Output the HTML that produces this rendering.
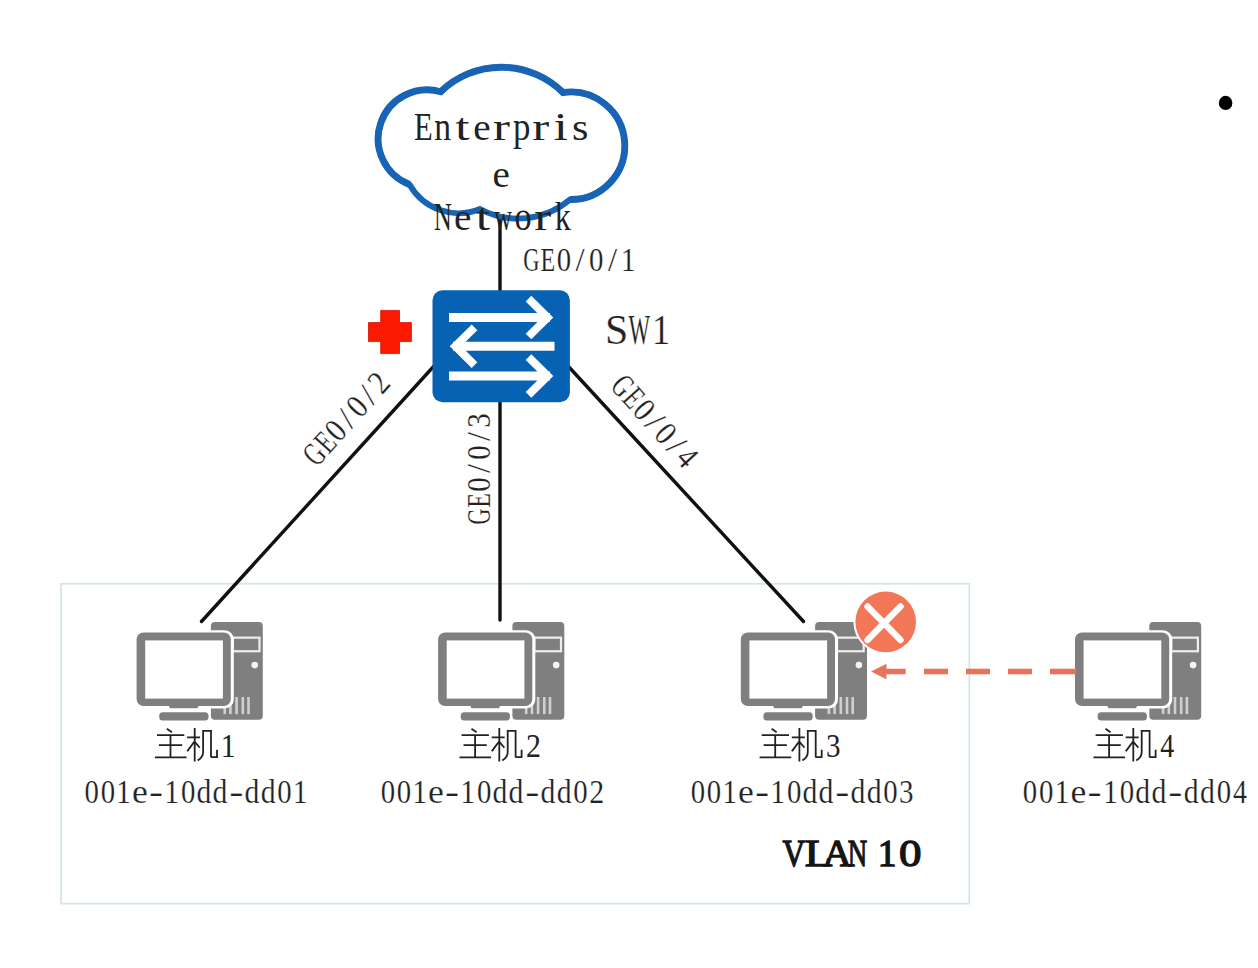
<!DOCTYPE html>
<html><head><meta charset="utf-8">
<style>
html,body{margin:0;padding:0;background:#fff;width:1258px;height:968px;overflow:hidden}
svg{position:absolute;left:0;top:0}
</style></head><body>
<svg width="1258" height="968" viewBox="0 0 1258 968">
<defs>
<g id="pc">
  <rect x="74.3" y="-0.5" width="51.9" height="97.8" rx="4" fill="#7f7f7f"/>
  <rect x="96.2" y="15.15" width="26.7" height="13.6" fill="none" stroke="#eeeeee" stroke-width="2.2"/>
  <circle cx="118.1" cy="42.6" r="3.3" fill="#f4f4f4"/>
  <g fill="#d0d0d0">
    <rect x="86.8" y="74.5" width="2.6" height="17.1"/>
    <rect x="92.5" y="74.5" width="2.6" height="17.1"/>
    <rect x="98.7" y="74.5" width="2.6" height="17.1"/>
    <rect x="104.9" y="74.5" width="2.6" height="17.1"/>
    <rect x="110.6" y="74.5" width="2.6" height="17.1"/>
  </g>
  <rect x="-2.4" y="7.8" width="99.6" height="78.1" rx="9" fill="#fff"/>
  <rect x="0" y="10" width="94.2" height="73.5" rx="7" fill="#7f7f7f"/>
  <rect x="8.6" y="17.9" width="77.7" height="58.2" fill="#fff"/>
  <path d="M32 83 L62.2 83 L61 85.8 L33.4 85.8 Z" fill="#7f7f7f"/>
  <rect x="22.6" y="89.7" width="49.3" height="8.3" rx="3.5" fill="#7f7f7f"/>
</g>
</defs>

<rect x="61" y="583.8" width="908.3" height="319.8" fill="none" stroke="#d6e6e8" stroke-width="1.8"/>
<g stroke="#111" stroke-width="3.4" stroke-linecap="round" fill="none">
  <line x1="500" y1="220" x2="500" y2="292"/>
  <line x1="434" y1="366" x2="201.5" y2="621.5"/>
  <line x1="500" y1="400" x2="500" y2="620"/>
  <line x1="568" y1="366" x2="803.5" y2="621.5"/>
</g>
<path d="M440.7 91.7 A87.5 87.5 0 0 1 563 92.5 A53.8 53.8 0 1 1 570 199.5 A80.2 80.2 0 0 1 480 209 A56.5 56.5 0 0 1 409.5 184.5 A49 49 0 0 1 440.7 91.7 Z" fill="none" stroke="#1764b6" stroke-width="5.8" stroke-linejoin="miter"/>
<path d="M409.5 184.5 A49 49 0 0 1 440.7 91.7 A87.5 87.5 0 0 1 563 92.5 A53.8 53.8 0 1 1 570 199.5" fill="none" stroke="#1764b6" stroke-width="6.9" stroke-linejoin="miter"/>

<g font-family="Liberation Serif" font-size="39" fill="#222"><text transform="translate(414.12 140) scale(0.785 1)">E</text><text transform="translate(434.29 140) scale(0.860 1)">n</text><text transform="translate(455.21 140) scale(1.320 1)">t</text><text transform="translate(473.34 140) scale(1.005 1)">e</text><text transform="translate(493.00 140) scale(1.306 1)">r</text><text transform="translate(513.12 140) scale(0.893 1)">p</text><text transform="translate(532.32 140) scale(1.306 1)">r</text><text transform="translate(553.68 140) scale(1.294 1)">i</text><text transform="translate(572.06 140) scale(1.085 1)">s</text></g>
<g font-family="Liberation Serif" font-size="39" fill="#222"><text transform="translate(492.47 186.5) scale(1.005 1)">e</text></g>
<g font-family="Liberation Serif" font-size="39" fill="#222"><text transform="translate(433.89 230.3) scale(0.631 1)">N</text><text transform="translate(454.10 230.3) scale(1.005 1)">e</text><text transform="translate(475.66 230.3) scale(1.320 1)">t</text><text transform="translate(494.18 230.3) scale(0.626 1)">w</text><text transform="translate(514.43 230.3) scale(0.877 1)">o</text><text transform="translate(534.25 230.3) scale(1.306 1)">r</text><text transform="translate(554.69 230.3) scale(0.826 1)">k</text></g>

<rect x="432.5" y="290.3" width="137.4" height="111.9" rx="10" fill="#0862b4"/>
<g stroke="#fff" fill="none">
  <path d="M449 317.4 H550 M554.5 346.2 H453 M449 376 H550" stroke-width="9"/>
  <path d="M528.5 298.7 L547.6 317.6 L528.5 336.5 M474.5 327.3 L455.4 346.2 L474.5 365.1 M528.5 357.1 L547.6 376 L528.5 394.9" stroke-width="8"/>
</g>
<path d="M380.7 310.4 H399.5 V322.6 H411.4 V341.6 H399.5 V353.6 H380.7 V341.6 H368.5 V322.6 H380.7 Z" fill="#fb1900" stroke="#d01000" stroke-width="0.8"/>

<g font-family="Liberation Serif" font-size="42.4" fill="#222" stroke="#fff" stroke-width="0.2"><text transform="translate(605.10 344.2) scale(0.988 1)">S</text><text transform="translate(628.43 344.2) scale(0.539 1)">W</text><text transform="translate(652.03 344.2) scale(0.851 1)">1</text></g>
<g font-family="Liberation Serif" font-size="33.6" fill="#222" stroke="#fff" stroke-width="0.2"><text transform="translate(523.28 270.5) scale(0.669 1)">G</text><text transform="translate(540.60 270.5) scale(0.716 1)">E</text><text transform="translate(556.69 270.5) scale(0.857 1)">0</text><text transform="translate(575.53 270.5) scale(0.975 1)">/</text><text transform="translate(589.07 270.5) scale(0.857 1)">0</text><text transform="translate(607.91 270.5) scale(0.975 1)">/</text><text transform="translate(620.78 270.5) scale(0.888 1)">1</text></g>
<g transform="translate(346 419) rotate(-48)"><g font-family="Liberation Serif" font-size="33.6" fill="#222" stroke="#fff" stroke-width="0.2"><text transform="translate(-55.72 11.0) scale(0.669 1)">G</text><text transform="translate(-38.54 11.0) scale(0.716 1)">E</text><text transform="translate(-22.60 11.0) scale(0.857 1)">0</text><text transform="translate(-3.90 11.0) scale(0.975 1)">/</text><text transform="translate(9.50 11.0) scale(0.857 1)">0</text><text transform="translate(28.20 11.0) scale(0.975 1)">/</text><text transform="translate(41.48 11.0) scale(0.891 1)">2</text></g></g>
<g transform="translate(478.9 469.15) rotate(-90)"><g font-family="Liberation Serif" font-size="33.6" fill="#222" stroke="#fff" stroke-width="0.2"><text transform="translate(-55.72 11.0) scale(0.669 1)">G</text><text transform="translate(-38.54 11.0) scale(0.716 1)">E</text><text transform="translate(-22.60 11.0) scale(0.857 1)">0</text><text transform="translate(-3.90 11.0) scale(0.975 1)">/</text><text transform="translate(9.50 11.0) scale(0.857 1)">0</text><text transform="translate(28.20 11.0) scale(0.975 1)">/</text><text transform="translate(41.41 11.0) scale(0.865 1)">3</text></g></g>
<g transform="translate(654.8 421.3) rotate(48)"><g font-family="Liberation Serif" font-size="33.6" fill="#222" stroke="#fff" stroke-width="0.2"><text transform="translate(-55.97 11.0) scale(0.669 1)">G</text><text transform="translate(-38.79 11.0) scale(0.716 1)">E</text><text transform="translate(-22.85 11.0) scale(0.857 1)">0</text><text transform="translate(-4.15 11.0) scale(0.975 1)">/</text><text transform="translate(9.25 11.0) scale(0.857 1)">0</text><text transform="translate(27.95 11.0) scale(0.975 1)">/</text><text transform="translate(41.50 11.0) scale(0.832 1)">4</text></g></g>

<use href="#pc" x="136.6" y="622.5"/>
<use href="#pc" x="438.1" y="622.5"/>
<use href="#pc" x="740.8" y="622.5"/>
<use href="#pc" x="1075" y="622.5"/>
<g fill="#e8735a">
  <path d="M871 671.5 L886.5 663.8 L886.5 668.7 L905.7 668.7 L905.7 674.3 L886.5 674.3 L886.5 679.3 Z"/>
  <rect x="924" y="668.7" width="24" height="5.6"/>
  <rect x="966" y="668.7" width="24" height="5.6"/>
  <rect x="1008" y="668.7" width="24" height="5.6"/>
  <rect x="1050" y="668.7" width="26" height="5.6"/>
</g>
<circle cx="885.7" cy="621.9" r="32.3" fill="#fff"/>
<circle cx="885.7" cy="621.9" r="30.3" fill="#f27658"/>
<g stroke="#fff" stroke-width="6.4" stroke-linecap="round">
  <line x1="867.5" y1="606.5" x2="900.5" y2="640"/>
  <line x1="900.5" y1="606.5" x2="867.5" y2="640"/>
</g>

<path transform="translate(155.8 722)" d="M11.8 7.2 L15.4 9.7 M2.1 13.2 H27.6 M4 23.2 H25.5 M0 35.4 H29.8 M14.7 13.2 V35.4 M32.2 15.4 H43.4 M38.9 6.8 V38.6 M38.3 20 L31.9 28.6 M39.8 20.8 L43.4 25 M47.3 8.9 V30 Q47.3 35 42.6 37.9 M47.3 8.9 H55.2 V34.5 Q55.2 35.2 56.2 35.2 H61.2 V28.6" fill="none" stroke="#222" stroke-width="1.8" stroke-linecap="square"/>
<g font-family="Liberation Serif" font-size="33.6" fill="#222"><text transform="translate(220.73 756.5) scale(0.888 1)">1</text></g>
<g font-family="Liberation Serif" font-size="33.6" fill="#222" stroke="#fff" stroke-width="0.2"><text transform="translate(84.60 802.7) scale(0.857 1)">0</text><text transform="translate(100.66 802.7) scale(0.857 1)">0</text><text transform="translate(116.04 802.7) scale(0.888 1)">1</text><text transform="translate(131.98 802.7) scale(1.061 1)">e</text><text transform="translate(148.96 802.7) scale(1.260 1)">-</text><text transform="translate(164.22 802.7) scale(0.888 1)">1</text><text transform="translate(180.95 802.7) scale(0.857 1)">0</text><text transform="translate(196.43 802.7) scale(0.883 1)">d</text><text transform="translate(212.49 802.7) scale(0.883 1)">d</text><text transform="translate(229.25 802.7) scale(1.260 1)">-</text><text transform="translate(244.60 802.7) scale(0.883 1)">d</text><text transform="translate(260.66 802.7) scale(0.883 1)">d</text><text transform="translate(277.30 802.7) scale(0.857 1)">0</text><text transform="translate(292.68 802.7) scale(0.888 1)">1</text></g>
<path transform="translate(460.4 722)" d="M11.8 7.2 L15.4 9.7 M2.1 13.2 H27.6 M4 23.2 H25.5 M0 35.4 H29.8 M14.7 13.2 V35.4 M32.2 15.4 H43.4 M38.9 6.8 V38.6 M38.3 20 L31.9 28.6 M39.8 20.8 L43.4 25 M47.3 8.9 V30 Q47.3 35 42.6 37.9 M47.3 8.9 H55.2 V34.5 Q55.2 35.2 56.2 35.2 H61.2 V28.6" fill="none" stroke="#222" stroke-width="1.8" stroke-linecap="square"/>
<g font-family="Liberation Serif" font-size="33.6" fill="#222"><text transform="translate(525.88 756.5) scale(0.891 1)">2</text></g>
<g font-family="Liberation Serif" font-size="33.6" fill="#222" stroke="#fff" stroke-width="0.2"><text transform="translate(380.80 802.7) scale(0.857 1)">0</text><text transform="translate(396.84 802.7) scale(0.857 1)">0</text><text transform="translate(412.21 802.7) scale(0.888 1)">1</text><text transform="translate(428.12 802.7) scale(1.061 1)">e</text><text transform="translate(445.08 802.7) scale(1.260 1)">-</text><text transform="translate(460.32 802.7) scale(0.888 1)">1</text><text transform="translate(477.03 802.7) scale(0.857 1)">0</text><text transform="translate(492.50 802.7) scale(0.883 1)">d</text><text transform="translate(508.54 802.7) scale(0.883 1)">d</text><text transform="translate(525.27 802.7) scale(1.260 1)">-</text><text transform="translate(540.61 802.7) scale(0.883 1)">d</text><text transform="translate(556.65 802.7) scale(0.883 1)">d</text><text transform="translate(573.27 802.7) scale(0.857 1)">0</text><text transform="translate(589.18 802.7) scale(0.891 1)">2</text></g>
<path transform="translate(760.5 722)" d="M11.8 7.2 L15.4 9.7 M2.1 13.2 H27.6 M4 23.2 H25.5 M0 35.4 H29.8 M14.7 13.2 V35.4 M32.2 15.4 H43.4 M38.9 6.8 V38.6 M38.3 20 L31.9 28.6 M39.8 20.8 L43.4 25 M47.3 8.9 V30 Q47.3 35 42.6 37.9 M47.3 8.9 H55.2 V34.5 Q55.2 35.2 56.2 35.2 H61.2 V28.6" fill="none" stroke="#222" stroke-width="1.8" stroke-linecap="square"/>
<g font-family="Liberation Serif" font-size="33.6" fill="#222"><text transform="translate(825.91 756.5) scale(0.865 1)">3</text></g>
<g font-family="Liberation Serif" font-size="33.6" fill="#222" stroke="#fff" stroke-width="0.2"><text transform="translate(690.80 802.7) scale(0.857 1)">0</text><text transform="translate(706.84 802.7) scale(0.857 1)">0</text><text transform="translate(722.21 802.7) scale(0.888 1)">1</text><text transform="translate(738.12 802.7) scale(1.061 1)">e</text><text transform="translate(755.08 802.7) scale(1.260 1)">-</text><text transform="translate(770.32 802.7) scale(0.888 1)">1</text><text transform="translate(787.03 802.7) scale(0.857 1)">0</text><text transform="translate(802.50 802.7) scale(0.883 1)">d</text><text transform="translate(818.54 802.7) scale(0.883 1)">d</text><text transform="translate(835.27 802.7) scale(1.260 1)">-</text><text transform="translate(850.61 802.7) scale(0.883 1)">d</text><text transform="translate(866.65 802.7) scale(0.883 1)">d</text><text transform="translate(883.27 802.7) scale(0.857 1)">0</text><text transform="translate(899.11 802.7) scale(0.865 1)">3</text></g>
<path transform="translate(1094.4 722)" d="M11.8 7.2 L15.4 9.7 M2.1 13.2 H27.6 M4 23.2 H25.5 M0 35.4 H29.8 M14.7 13.2 V35.4 M32.2 15.4 H43.4 M38.9 6.8 V38.6 M38.3 20 L31.9 28.6 M39.8 20.8 L43.4 25 M47.3 8.9 V30 Q47.3 35 42.6 37.9 M47.3 8.9 H55.2 V34.5 Q55.2 35.2 56.2 35.2 H61.2 V28.6" fill="none" stroke="#222" stroke-width="1.8" stroke-linecap="square"/>
<g font-family="Liberation Serif" font-size="33.6" fill="#222"><text transform="translate(1160.15 756.5) scale(0.832 1)">4</text></g>
<g font-family="Liberation Serif" font-size="33.6" fill="#222" stroke="#fff" stroke-width="0.2"><text transform="translate(1022.80 802.7) scale(0.857 1)">0</text><text transform="translate(1038.96 802.7) scale(0.857 1)">0</text><text transform="translate(1054.44 802.7) scale(0.888 1)">1</text><text transform="translate(1070.47 802.7) scale(1.061 1)">e</text><text transform="translate(1087.54 802.7) scale(1.260 1)">-</text><text transform="translate(1102.90 802.7) scale(0.888 1)">1</text><text transform="translate(1119.73 802.7) scale(0.857 1)">0</text><text transform="translate(1135.30 802.7) scale(0.883 1)">d</text><text transform="translate(1151.46 802.7) scale(0.883 1)">d</text><text transform="translate(1168.31 802.7) scale(1.260 1)">-</text><text transform="translate(1183.77 802.7) scale(0.883 1)">d</text><text transform="translate(1199.92 802.7) scale(0.883 1)">d</text><text transform="translate(1216.65 802.7) scale(0.857 1)">0</text><text transform="translate(1232.95 802.7) scale(0.832 1)">4</text></g>
<g font-family="Liberation Serif" font-size="38.2" fill="#151515" stroke="#151515" stroke-width="1.3"><text transform="translate(782.45 865.6) scale(0.823 1)">V</text><text transform="translate(804.73 865.6) scale(1.153 1)">L</text><text transform="translate(823.11 865.6) scale(1.040 1)">A</text><text transform="translate(847.73 865.6) scale(0.703 1)">N</text><text transform="translate(877.80 865.6) scale(0.982 1)">1</text><text transform="translate(899.08 865.6) scale(1.180 1)">0</text></g>
<ellipse cx="1225.6" cy="102.9" rx="6.8" ry="7.1" fill="#000"/>
</svg></body></html>
